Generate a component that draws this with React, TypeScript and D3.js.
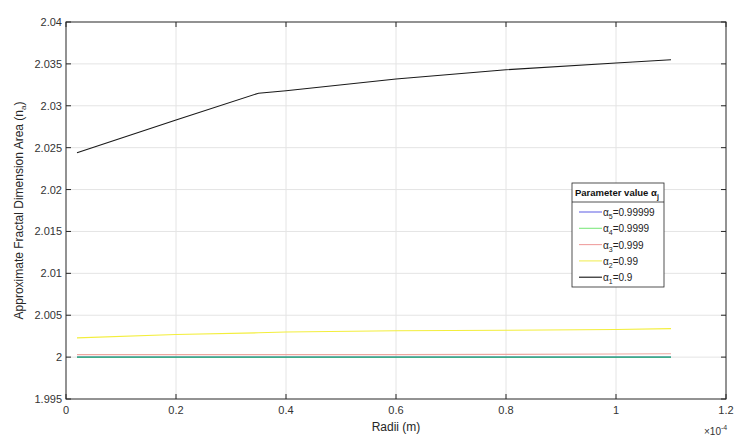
import React from "react";
import * as d3 from "d3";

const radii = [0.02, 0.2, 0.35, 0.4, 0.6, 0.8, 1.0, 1.1]; // ×1e-4 m
const alpha1 = [2.0244, 2.0283, 2.0315, 2.0318, 2.0332, 2.0343, 2.0351, 2.0355];
const alpha2 = [2.0023, 2.0027, 2.0029, 2.003, 2.00315, 2.0032, 2.0033, 2.0034];
const alpha3 = [2.0003, 2.0003, 2.0003, 2.0003, 2.0003, 2.00033, 2.00038, 2.0004];
const alpha4 = [2.0, 2.0, 2.0, 2.0, 2.0, 2.0, 2.0, 2.0];
const alpha5 = [2.0, 2.0, 2.0, 2.0, 2.0, 2.0, 2.0, 2.0];

const xTicks = [0, 0.2, 0.4, 0.6, 0.8, 1, 1.2];
const yTicks = [1.995, 2, 2.005, 2.01, 2.015, 2.02, 2.025, 2.03, 2.035, 2.04];

const legendItems = [
  { sub: "5", val: "0.99999", color: "#6a6ae6" },
  { sub: "4", val: "0.9999", color: "#7fe87f" },
  { sub: "3", val: "0.999", color: "#f0a0a0" },
  { sub: "2", val: "0.99", color: "#f2ee5a" },
  { sub: "1", val: "0.9", color: "#111111" },
];

export default function App() {
  const W = 737, H = 437;
  const left = 66, right = 726, top = 22, bottom = 399;
  const x = d3.scaleLinear().domain([0, 1.2]).range([left, right]);
  const y = d3.scaleLinear().domain([1.995, 2.04]).range([bottom, top]);
  const line = (vals: number[]) =>
    d3.line<number>().x((_, i) => x(radii[i])).y((d) => y(d))(vals) || "";

  const series = [
    { vals: alpha5, color: "#4a4af0" },
    { vals: alpha4, color: "#2fbf62" },
    { vals: alpha3, color: "#eea6a0" },
    { vals: alpha2, color: "#f3ee3c" },
    { vals: alpha1, color: "#1a1a1a" },
  ];

  const font = "'Liberation Sans', Arial, Helvetica, sans-serif";
  const lx = 572, ly = 183, lw = 92, lh = 104;

  return (
    <svg width={W} height={H} style={{ position: "absolute", left: 0, top: 0, background: "#fff" }} fontFamily={font}>
      <rect x={0} y={0} width={W} height={H} fill="#fff" />
      {/* grid */}
      {xTicks.slice(1, -1).map((t) => (
        <line key={"gx" + t} x1={x(t)} x2={x(t)} y1={top} y2={bottom} stroke="#e4e4e4" strokeWidth={1} />
      ))}
      {yTicks.slice(1, -1).map((t) => (
        <line key={"gy" + t} x1={left} x2={right} y1={y(t)} y2={y(t)} stroke="#e4e4e4" strokeWidth={1} />
      ))}
      {/* series */}
      {series.map((s, i) => (
        <path key={i} d={line(s.vals)} fill="none" stroke={s.color} strokeWidth={1.1} />
      ))}
      {/* axes box */}
      <rect x={left} y={top} width={right - left} height={bottom - top} fill="none" stroke="#262626" strokeWidth={1} />
      {xTicks.map((t) => (
        <g key={"xt" + t}>
          <line x1={x(t)} x2={x(t)} y1={bottom} y2={bottom - 5} stroke="#262626" />
          <line x1={x(t)} x2={x(t)} y1={top} y2={top + 5} stroke="#262626" />
          <text x={x(t)} y={bottom + 15} textAnchor="middle" fontSize={11} fill="#333">
            {d3.format("~g")(t)}
          </text>
        </g>
      ))}
      {yTicks.map((t) => (
        <g key={"yt" + t}>
          <line x1={left} x2={left + 5} y1={y(t)} y2={y(t)} stroke="#262626" />
          <line x1={right} x2={right - 5} y1={y(t)} y2={y(t)} stroke="#262626" />
          <text x={left - 4} y={y(t) + 4} textAnchor="end" fontSize={11} fill="#333">
            {d3.format("~g")(t)}
          </text>
        </g>
      ))}
      <text x={(left + right) / 2} y={431} textAnchor="middle" fontSize={12} fill="#262626">
        Radii (m)
      </text>
      <text x={704} y={435} fontSize={10} fill="#333">
        ×10<tspan dy={-5} fontSize={7}>-4</tspan>
      </text>
      <text transform={`translate(23, ${(top + bottom) / 2}) rotate(-90)`} textAnchor="middle" fontSize={12} fill="#262626">
        Approximate Fractal Dimension Area (n<tspan dy={3} fontSize={8}>a</tspan>
        <tspan dy={-3}>)</tspan>
      </text>
      {/* legend */}
      <rect x={lx} y={ly} width={lw} height={lh} fill="#fff" stroke="#262626" strokeWidth={0.8} />
      <line x1={lx} x2={lx + lw} y1={ly + 19} y2={ly + 19} stroke="#262626" strokeWidth={0.8} />
      <text x={lx + 3} y={ly + 13} fontSize={9.5} fontWeight="bold" fill="#111">
        Parameter value α<tspan dy={3} fontSize={7}>j</tspan>
      </text>
      {legendItems.map((it, i) => {
        const yy = ly + 29 + i * 16.3;
        return (
          <g key={it.sub}>
            <line x1={lx + 7} x2={lx + 30} y1={yy} y2={yy} stroke={it.color} strokeWidth={1.1} />
            <text x={lx + 31} y={yy + 4} fontSize={10} fill="#222">
              α<tspan dy={3} fontSize={7}>{it.sub}</tspan>
              <tspan dy={-3}>={it.val}</tspan>
            </text>
          </g>
        );
      })}
    </svg>
  );
}
